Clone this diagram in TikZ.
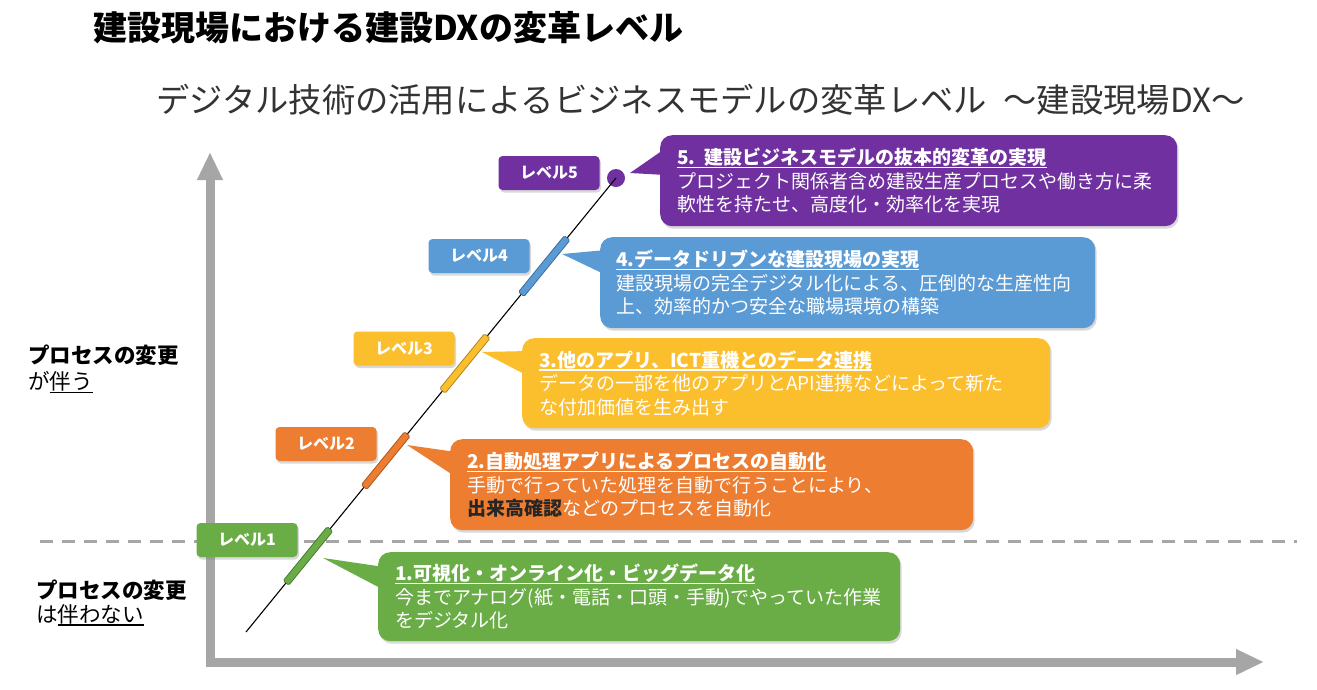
\documentclass[tikz,border=0pt]{standalone}
\usepackage{fontspec}
\setmainfont{Noto Sans CJK JP}
\usetikzlibrary{arrows.meta,shadows,calc}
\definecolor{cPurple}{HTML}{7030A0}
\definecolor{cBlue}{HTML}{5B9BD5}
\definecolor{cYellow}{HTML}{FBBF2E}
\definecolor{cOrange}{HTML}{ED7D31}
\definecolor{cGreen}{HTML}{6AAD47}
\definecolor{cAxis}{HTML}{A6A6A6}
\definecolor{cSub}{HTML}{333333}
\newcommand\ulx[1]{\setbox0\hbox{#1}\rlap{\rule[-3.5pt]{\wd0}{1.3pt}}\box0}
\newcommand\ctitle[1]{{\bfseries\ulx{#1}}}
\begin{document}
\begin{tikzpicture}[x=1pt,y=-1pt,
  shd/.style={drop shadow={shadow xshift=1.5pt,shadow yshift=-2.5pt,opacity=0.3}},
  lvl/.style={rounded corners=4pt,minimum width=101pt,minimum height=34pt,inner sep=0pt,
    text=white,font=\bfseries\fontsize{16}{19}\selectfont,shd},
  callout/.style={rounded corners=12pt,text=white,align=left,inner xsep=17pt,inner ysep=0pt,
    anchor=north west,font=\fontsize{19}{23.5}\selectfont,shd},
  axis/.style={cAxis,line width=9pt,-{Triangle[length=28pt,width=24pt]}},
  sidelabel/.style={anchor=west,inner sep=0pt,font=\fontsize{21.5}{26}\selectfont},
  barfill/.style={line width=0.8pt,rounded corners=1.5pt}
]
\useasboundingbox (0,0) rectangle (1317,689);
\fill[white] (0,0) rectangle (1317,689);

% titles
\node[anchor=west,inner sep=0pt,font=\bfseries\fontsize{34}{40}\selectfont] (title) at (93,28)
  {建設現場における建設DXの変革レベル};
\node[anchor=west,inner sep=0pt,text=cSub,font=\fontsize{33.3}{40}\selectfont] (subtitle) at (156,100)
  {デジタル技術の活用によるビジネスモデルの変革レベル\hspace{0.5em}～建設現場DX～};

% axes
\coordinate (vbot) at (210,667);
\coordinate (vtop) at (210,152);
\coordinate (hleft) at (205.5,662);
\coordinate (hright) at (1264,662);
\draw[axis] (vbot) -- (vtop);
\draw[axis] (hleft) -- (hright);

% dashed separator
\coordinate (dL) at (40,541);
\coordinate (dR) at (1297,541);
\draw[cAxis,line width=3pt,dash pattern=on 13pt off 9pt] (dL) -- (dR);

% side labels
\node[sidelabel,font=\bfseries\fontsize{21.5}{26}\selectfont] (s1a) at (28,355) {プロセスの変更};
\node[sidelabel] (s1b) at (28,382) {が\ulx{伴う}};
\node[sidelabel,font=\bfseries\fontsize{21.5}{26}\selectfont] (s2a) at (36,590) {プロセスの変更};
\node[sidelabel] (s2b) at (36,615) {は\ulx{伴わない}};

% diagonal
\coordinate (A) at (246,632);
\node[circle,fill=cPurple,minimum size=18pt,inner sep=0pt] (dot) at (616,178) {};
\draw[line width=1.1pt] (A) -- (dot.center);

% bars on the diagonal
\foreach \ta/\tb/\c/\n in {0.868/0.744/cBlue/4,0.652/0.531/cYellow/3,0.436/0.319/cOrange/2,0.227/0.108/cGreen/1}{
  \coordinate (p\n) at ($(A)!\ta!(dot.center)$);
  \coordinate (q\n) at ($(A)!\tb!(dot.center)$);
  \filldraw[barfill,fill=\c,draw=\c!70!black]
    ($(p\n)!3.6pt!90:(q\n)$) -- ($(q\n)!3.6pt!-90:(p\n)$) --
    ($(q\n)!3.6pt!90:(p\n)$) -- ($(p\n)!3.6pt!-90:(q\n)$) -- cycle;
}

% level labels
\node[lvl,fill=cPurple] (L5) at (549,173) {レベル5};
\node[lvl,fill=cBlue] (L4) at (479,256) {レベル4};
\node[lvl,fill=cYellow] (L3) at (404,348.5) {レベル3};
\node[lvl,fill=cOrange] (L2) at (326,444) {レベル2};
\node[lvl,fill=cGreen] (L1) at (247,540) {レベル1};

% callouts
\node[callout,fill=cPurple,minimum width=517pt,minimum height=91pt,text width=483pt] (C5) at (660,135)
  {\ctitle{5. 建設ビジネスモデルの抜本的変革の実現}\\
   プロジェクト関係者含め建設生産プロセスや働き方に柔\\
   軟性を持たせ、高度化・効率化を実現};
\node[callout,fill=cBlue,minimum width=495pt,minimum height=91pt,text width=463pt,inner xsep=16pt] (C4) at (600,237)
  {\ctitle{4.データドリブンな建設現場の実現}\\
   建設現場の完全デジタル化による、圧倒的な生産性向\\
   上、効率的かつ安全な職場環境の構築};
\node[callout,fill=cYellow,minimum width=528pt,minimum height=90pt,text width=494pt] (C3) at (522,338)
  {\ctitle{3.他のアプリ、ICT重機とのデータ連携}\\
   データの一部を他のアプリとAPI連携などによって新た\\
   な付加価値を生み出す};
\node[callout,fill=cOrange,minimum width=523pt,minimum height=91pt,text width=489pt] (C2) at (450,439)
  {\ctitle{2.自動処理アプリによるプロセスの自動化}\\
   手動で行っていた処理を自動で行うことにより、\\
   {\color{black!85}\bfseries 出来高確認}などのプロセスを自動化};
\node[callout,fill=cGreen,minimum width=522pt,minimum height=89pt,text width=488pt] (C1) at (378,552)
  {\ctitle{1.可視化・オンライン化・ビッグデータ化}\\
   今までアナログ(紙・電話・口頭・手動)でやっていた作業\\
   をデジタル化};

% callout tails
\coordinate (t5) at (630,173);
\coordinate (t4) at (562,254);
\coordinate (t3) at (482,352);
\coordinate (t2) at (407,445);
\coordinate (t1) at (323,558);
\fill[cPurple] (t5) -- ($(C5.north west)+(6,13)$) -- ($(C5.north west)+(6,40)$) -- cycle;
\fill[cBlue] (t4) -- ($(C4.north west)+(6,13)$) -- ($(C4.north west)+(6,38)$) -- cycle;
\fill[cYellow] (t3) -- ($(C3.north west)+(6,13)$) -- ($(C3.north west)+(6,38)$) -- cycle;
\fill[cOrange] (t2) -- ($(C2.north west)+(6,13)$) -- ($(C2.north west)+(6,38)$) -- cycle;
\fill[cGreen] (t1) -- ($(C1.north west)+(6,15)$) -- ($(C1.north west)+(6,38)$) -- cycle;
\end{tikzpicture}
\end{document}
